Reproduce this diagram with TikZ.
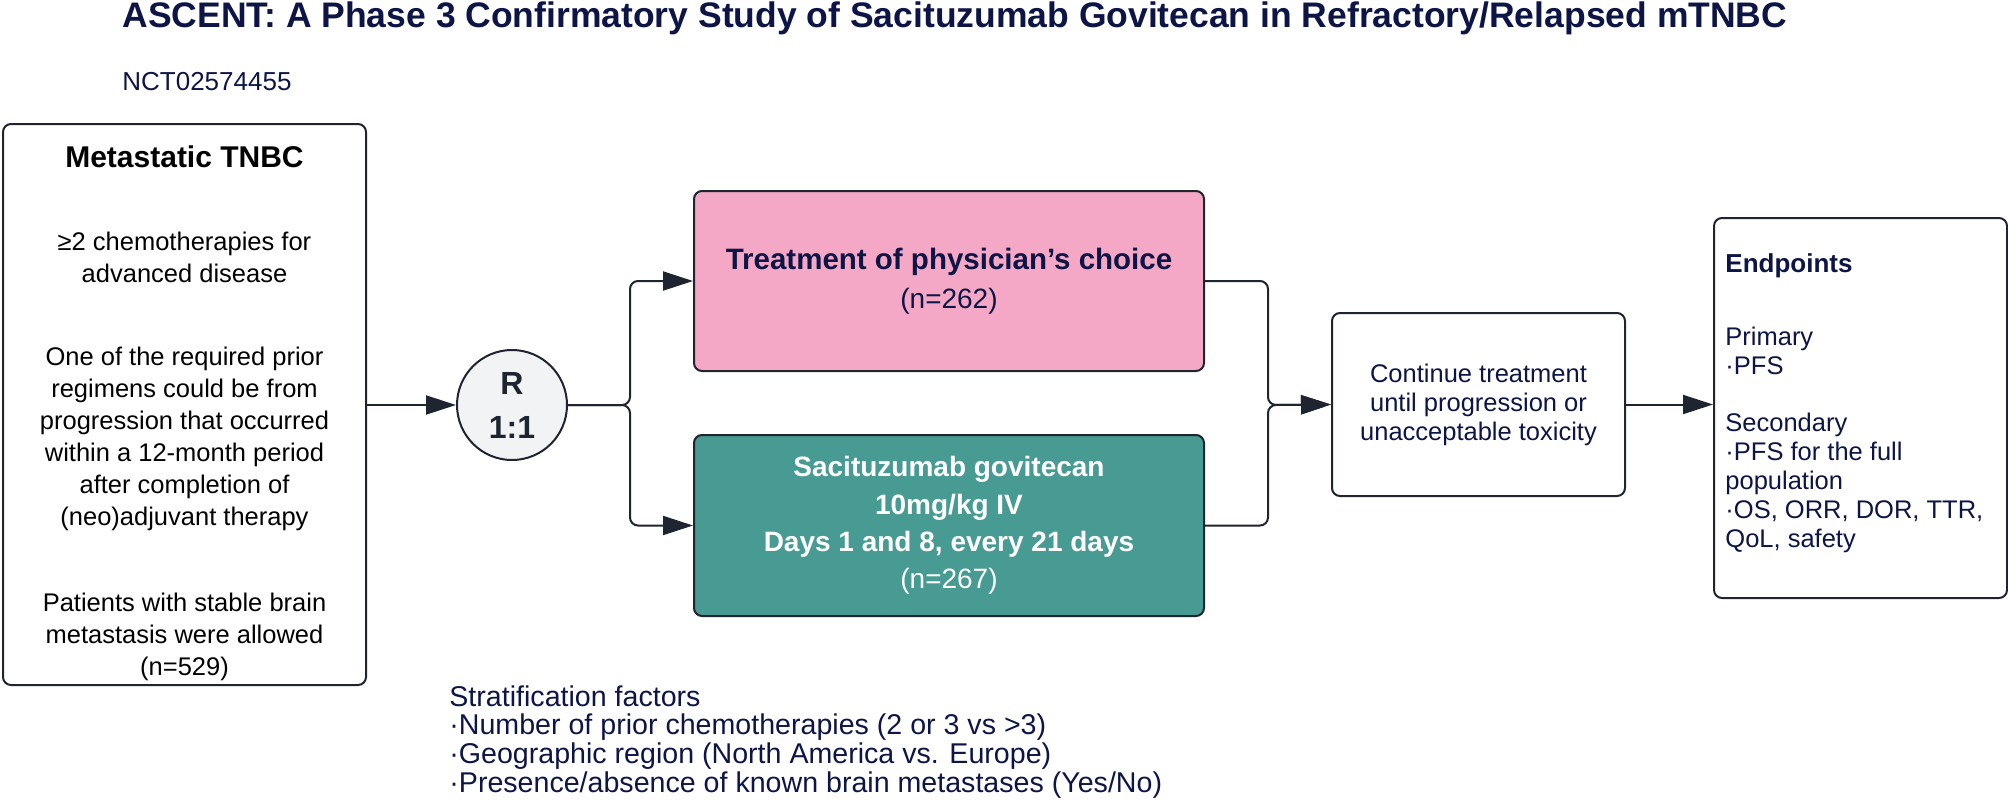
\documentclass[tikz,border=0pt]{standalone}
\usepackage{fontspec}
\setmainfont{Liberation Sans}
\usetikzlibrary{arrows.meta}
\definecolor{navy}{HTML}{0D1546}
\definecolor{edge}{HTML}{1E2430}
\definecolor{tpcpink}{HTML}{F4A8C6}
\definecolor{sgteal}{HTML}{489B93}
\definecolor{rfill}{HTML}{F2F3F5}

\begin{document}
\begin{tikzpicture}[
  x=0.5pt, y=-0.5pt,
  box/.style={rectangle, draw=edge, line width=1pt, rounded corners=4pt, inner sep=0pt},
  inctext/.style={anchor=base, align=center, text=black,
    font=\fontsize{12.75}{16}\selectfont},
  navytext/.style={align=center, text=navy, font=\fontsize{12.75}{14.5}\selectfont},
  listtext/.style={anchor=base west, inner sep=0pt, align=left, text=navy,
    font=\fontsize{12.75}{14.5}\selectfont},
  arr/.style={-{Triangle[length=15pt, width=9.5pt]}, line width=1pt, draw=edge,
    rounded corners=4pt}
]
\useasboundingbox (0,0) rectangle (2008,804);

% Title (base anchors sit on the last line)
\node[anchor=base west, inner sep=0pt, text=navy, font=\fontsize{17.75}{21}\selectfont\bfseries] (title) at (122,27)
  {ASCENT: A Phase 3 Confirmatory Study of Sacituzumab Govitecan in Refractory/Relapsed mTNBC};
\node[anchor=base west, inner sep=0pt, text=navy, font=\fontsize{13}{15}\selectfont] (nct) at (122,90) {NCT02574455};

% Inclusion box
\node[box, minimum width=181.5pt, minimum height=280.5pt] (inc) at (184.5,404.5) {};
\node[inctext, font=\fontsize{15}{18}\selectfont\bfseries] (inchead) at (184.5,167) {Metastatic TNBC};
\node[inctext] (crit1) at (184.5,282) {≥2 chemotherapies for\\advanced disease};
\node[inctext] (crit2) at (184.5,525) {One of the required prior\\regimens could be from\\progression that occurred\\within a 12-month period\\after completion of\\(neo)adjuvant therapy};
\node[inctext] (crit3) at (184.5,675) {Patients with stable brain\\metastasis were allowed\\(n=529)};

% Randomisation
\node[circle, draw=edge, line width=1pt, fill=rfill, minimum size=55pt, inner sep=0pt,
  align=center, text=edge, font=\fontsize{16}{22}\selectfont\bfseries] (rand) at (512,405) {R\\1:1};

% Arms
\node[box, fill=tpcpink, minimum width=255pt, minimum height=90pt, align=center, text=navy,
  font=\fontsize{14}{19.5}\selectfont] (tpc) at (949,281)
  {{\fontsize{14.75}{19.5}\selectfont\bfseries Treatment of physician’s choice}\\(n=262)};
\node[box, fill=sgteal, minimum width=255pt, minimum height=90.5pt, align=center, text=white,
  font=\fontsize{14}{18.6}\selectfont] (sg) at (949,525.5)
  {\bfseries Sacituzumab govitecan\\\bfseries 10mg/kg IV\\\bfseries Days 1 and 8, every 21 days\\(n=267)};

% Continuation and endpoints
\node[box, fill=white, minimum width=146.5pt, minimum height=91.5pt, navytext] (cont) at (1478.5,404.5)
  {Continue treatment\\until progression or\\unacceptable toxicity};
\node[box, fill=white, minimum width=146.5pt, minimum height=190pt] (endp) at (1860.5,408) {};
\node[listtext, font=\fontsize{13}{15}\selectfont\bfseries] (endhead) at (1725,272) {Endpoints};
\node[listtext] (primary) at (1725,374) {Primary\\·PFS};
\node[listtext] (secondary) at (1725,547) {Secondary\\·PFS for the full\\population\\·OS, ORR, DOR, TTR,\\QoL, safety};

% Stratification
\node[listtext, font=\fontsize{14.3}{14.3}\selectfont] (strat) at (449,792) {Stratification factors\\·Number of prior chemotherapies (2 or 3 vs >3)\\·Geographic region (North America vs. Europe)\\·Presence/absence of known brain metastases (Yes/No)};

% Connectors
\coordinate (split) at (630,405);
\coordinate (merge) at (1268,405);
\draw[arr] (inc.east |- rand.west) -- (rand.west);
\draw[arr] (rand.east) -- (split) |- (tpc.west);
\draw[arr] (rand.east) -- (split) |- (sg.west);
\draw[arr] (tpc.east) -| (merge) -- (cont.west);
\draw[arr] (sg.east) -| (merge) -- (cont.west);
\draw[arr] (cont.east) -- (cont.east -| endp.west);

\end{tikzpicture}
\end{document}
